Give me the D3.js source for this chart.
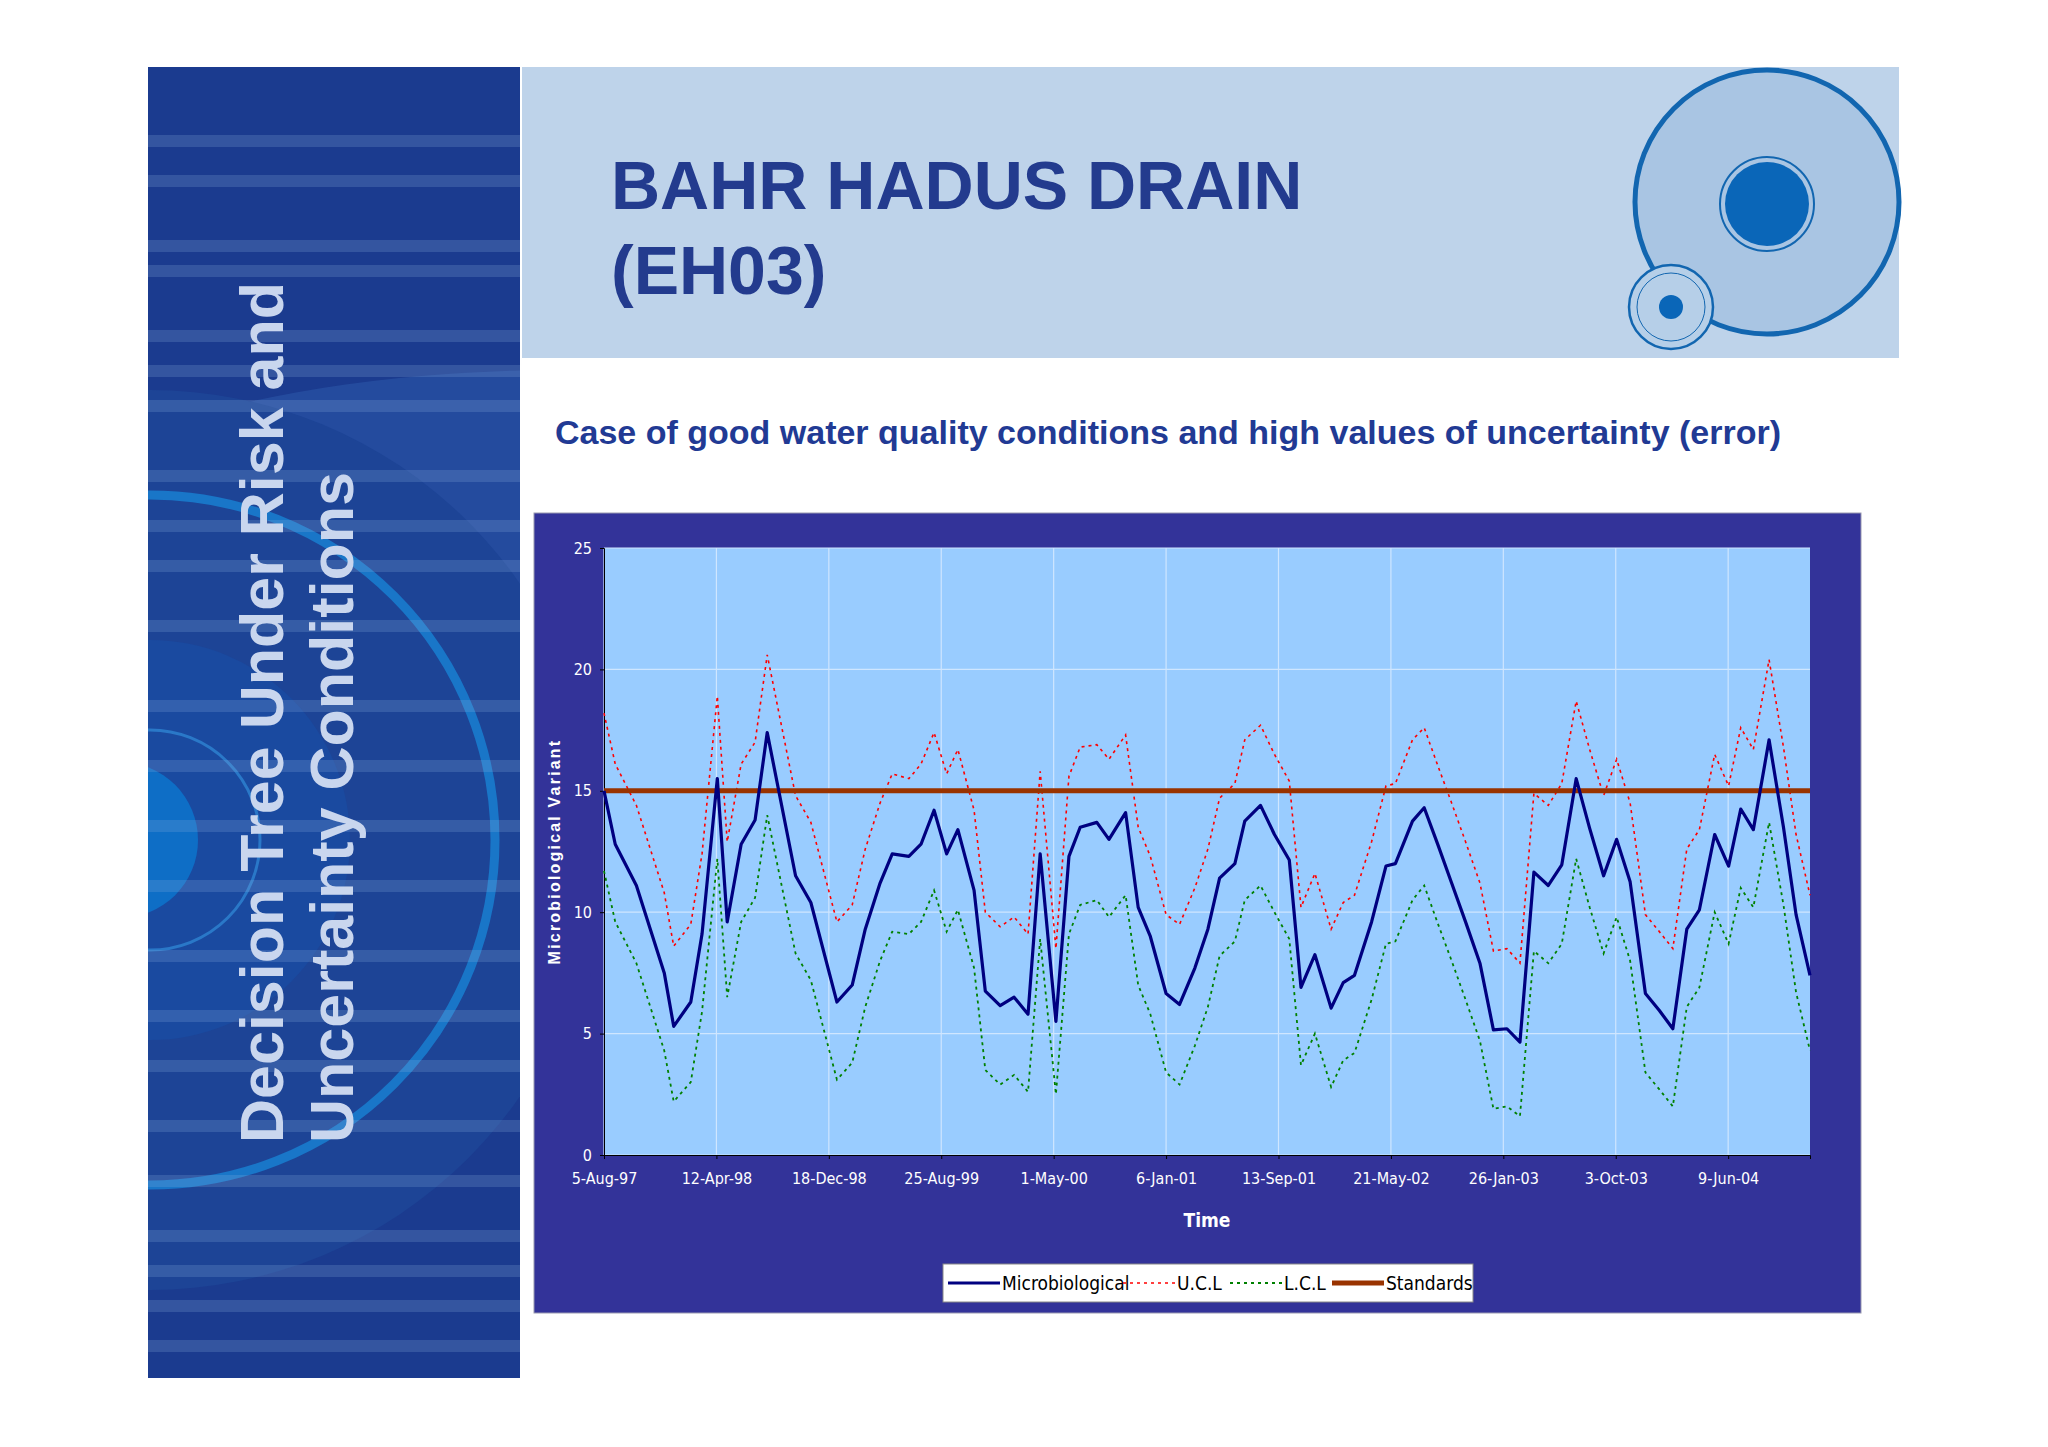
<!DOCTYPE html>
<html>
<head>
<meta charset="utf-8">
<script src="https://cdn.jsdelivr.net/npm/d3@7"></script>
<style>
  body { margin: 0; background: #fff; }
  svg { display: block; }
</style>
</head>
<body>
<div id="slide"></div>
<script>
// sample day offsets from 5-Aug-97
const dayOffsets = [0,25,72,134,155,193,218,252,274,305,336,363,426,460,518,552,581,614,641,678,705,734,762,787,823,848,881,912,943,970,1005,1034,1059,1096,1123,1160,1188,1215,1250,1280,1314,1343,1369,
  1403,1425,1460,1491,1524,1550,1581,1617,1644,1669,1707,1739,1760,1798,1824,1855,1885,1916,1948,1978,2008,2037,2068,2100,2130,2162,2192,2223,2252,2282,2316,2347,2377,2408,2436,2470,2501,2528,2556,2591,2623,2651,2682];
const micro = [15.0,12.8,11.1,7.5,5.3,6.3,9.1,15.5,9.6,12.8,13.8,17.4,11.5,10.4,6.3,7.0,9.3,11.2,12.4,12.3,12.8,14.2,12.4,13.4,10.9,6.75,6.15,6.5,5.8,12.4,5.5,12.3,13.5,13.7,13.0,14.1,10.2,9.0,6.65,6.2,7.7,9.3,11.4,
  12.0,13.75,14.4,13.2,12.15,6.9,8.25,6.05,7.1,7.4,9.6,11.9,12.0,13.75,14.3,12.75,11.2,9.6,7.9,5.15,5.2,4.65,11.65,11.1,11.95,15.5,13.45,11.5,13.0,11.25,6.65,5.95,5.2,9.3,10.1,13.2,11.9,14.25,13.4,17.1,13.5,9.9,7.4];
const ucl = [18.2,16.1,14.4,10.8,8.6,9.5,12.4,18.9,12.9,16.1,17.0,20.6,14.8,13.7,9.6,10.3,12.6,14.5,15.7,15.5,16.1,17.4,15.7,16.7,14.2,10.0,9.4,9.8,9.1,15.8,8.5,15.6,16.8,16.9,16.3,17.3,13.5,12.3,9.9,9.5,11.0,12.6,14.7,
  15.3,17.1,17.7,16.5,15.4,10.2,11.6,9.3,10.4,10.7,12.9,15.2,15.3,17.1,17.6,16.0,14.5,12.9,11.2,8.4,8.5,7.9,14.9,14.4,15.3,18.7,16.7,14.8,16.3,14.5,9.9,9.2,8.5,12.6,13.4,16.5,15.2,17.6,16.7,20.4,16.8,13.2,10.7];
const lcl = [11.7,9.6,7.9,4.3,2.2,3.0,5.9,12.2,6.5,9.6,10.6,14.0,8.3,7.2,3.1,3.8,6.1,8.0,9.2,9.1,9.6,10.9,9.2,10.1,7.7,3.5,2.9,3.3,2.6,8.9,2.5,9.1,10.3,10.5,9.8,10.7,7.0,5.8,3.4,2.9,4.5,6.1,8.2,
  8.8,10.5,11.1,10.0,8.9,3.7,5.0,2.8,3.9,4.2,6.4,8.7,8.8,10.5,11.1,9.5,8.0,6.4,4.7,1.9,2.0,1.6,8.4,7.9,8.7,12.2,10.2,8.3,9.8,8.0,3.4,2.7,2.0,6.1,6.9,10.0,8.7,11.0,10.2,13.7,10.3,6.7,4.3];
const standard = 15;
const xTickLabels = ["5-Aug-97","12-Apr-98","18-Dec-98","25-Aug-99","1-May-00","6-Jan-01","13-Sep-01","21-May-02","26-Jan-03","3-Oct-03","9-Jun-04"];
const yTicks = [0,5,10,15,20,25];
const legendItems = ["Microbiological","U.C.L","L.C.L","Standards"];

const W = 2048, H = 1447;
const svg = d3.select("#slide").append("svg").attr("width", W).attr("height", H);

// ---- left sidebar ----
const side = { x: 148, y: 67, w: 372, h: 1311 };
svg.append("clipPath").attr("id", "sideclip").append("rect")
  .attr("x", side.x).attr("y", side.y).attr("width", side.w).attr("height", side.h);
const sg = svg.append("g").attr("clip-path", "url(#sideclip)");
sg.append("rect").attr("x", side.x).attr("y", side.y).attr("width", side.w).attr("height", side.h).attr("fill", "#1b3b8f");
sg.append("ellipse").attr("cx", 560).attr("cy", 560).attr("rx", 560).attr("ry", 190).attr("fill", "#2b56a8").attr("opacity", 0.6);
sg.append("circle").attr("cx", 150).attr("cy", 840).attr("r", 450).attr("fill", "#1d4496");
sg.append("circle").attr("cx", 150).attr("cy", 840).attr("r", 345).attr("fill", "none").attr("stroke", "#1976c8").attr("stroke-width", 9);
sg.append("circle").attr("cx", 150).attr("cy", 840).attr("r", 200).attr("fill", "#1a4aa0");
sg.append("circle").attr("cx", 150).attr("cy", 840).attr("r", 110).attr("fill", "none").attr("stroke", "#2a78c8").attr("stroke-width", 3);
sg.append("circle").attr("cx", 120).attr("cy", 840).attr("r", 78).attr("fill", "#0e6ec6");
const stripeYs = [135, 175, 240, 265, 330, 365, 400, 470, 520, 560, 620, 700, 760, 820, 880, 950, 1010, 1060, 1120, 1175, 1230, 1265, 1300, 1340];
sg.selectAll(".stripe").data(stripeYs).enter().append("rect")
  .attr("x", side.x).attr("y", d => d).attr("width", side.w).attr("height", 12)
  .attr("fill", "#8fb0e0").attr("opacity", 0.22);
sg.append("text").attr("transform", "translate(283,1143) rotate(-90)")
  .attr("font-family", "Liberation Sans, Arial, sans-serif").attr("font-weight", "bold")
  .attr("font-size", 61).attr("fill", "#c9d6ee").text("Decision Tree Under  Risk and");
sg.append("text").attr("transform", "translate(353,1143) rotate(-90)")
  .attr("font-family", "Liberation Sans, Arial, sans-serif").attr("font-weight", "bold")
  .attr("font-size", 61).attr("fill", "#c9d6ee").text("Uncertainty Conditions");

// ---- header band ----
svg.append("rect").attr("x", 522).attr("y", 67).attr("width", 1377).attr("height", 291).attr("fill", "#bed3ea");
svg.append("text").attr("x", 611).attr("y", 209).attr("font-family", "Liberation Sans, Arial, sans-serif")
  .attr("font-weight", "bold").attr("font-size", 68).attr("fill", "#233b8e").text("BAHR HADUS DRAIN");
svg.append("text").attr("x", 611).attr("y", 294).attr("font-family", "Liberation Sans, Arial, sans-serif")
  .attr("font-weight", "bold").attr("font-size", 68).attr("fill", "#233b8e").text("(EH03)");
svg.append("circle").attr("cx", 1767).attr("cy", 202).attr("r", 132).attr("fill", "#a9c5e3").attr("stroke", "#1266b0").attr("stroke-width", 5);
svg.append("circle").attr("cx", 1767).attr("cy", 204).attr("r", 47).attr("fill", "none").attr("stroke", "#1266b0").attr("stroke-width", 2);
svg.append("circle").attr("cx", 1767).attr("cy", 204).attr("r", 42).attr("fill", "#0a66b8");
svg.append("circle").attr("cx", 1671).attr("cy", 307).attr("r", 42).attr("fill", "#b6cfe8").attr("stroke", "#1266b0").attr("stroke-width", 2.5);
svg.append("circle").attr("cx", 1671).attr("cy", 307).attr("r", 34).attr("fill", "none").attr("stroke", "#1266b0").attr("stroke-width", 1);
svg.append("circle").attr("cx", 1671).attr("cy", 307).attr("r", 12).attr("fill", "#0a66b8");

svg.append("text").attr("x", 555).attr("y", 444).attr("font-family", "Liberation Sans, Arial, sans-serif")
  .attr("font-weight", "bold").attr("font-size", 34).attr("fill", "#213a94")
  .text("Case of good water quality conditions and high values of uncertainty (error)");

// ---- chart ----
svg.append("rect").attr("x", 534).attr("y", 513).attr("width", 1327).attr("height", 800)
  .attr("fill", "#333399").attr("stroke", "#9a9ab0").attr("stroke-width", 1);
const plot = { left: 604, top: 548, right: 1810, bottom: 1155 };
const parse = d3.timeParse("%d-%b-%y");
const start = parse("05-Aug-97");
const dates = dayOffsets.map(d => d3.timeDay.offset(start, d));
const x = d3.scaleTime().domain([start, dates[dates.length - 1]]).range([plot.left, plot.right]);
const y = d3.scaleLinear().domain([0, 25]).range([plot.bottom, plot.top]);
const tickDates = xTickLabels.map(s => parse(s.padStart(9, "0")));

svg.append("rect").attr("x", plot.left).attr("y", plot.top).attr("width", plot.right - plot.left)
  .attr("height", plot.bottom - plot.top).attr("fill", "#99ccff");
svg.append("g").selectAll("line").data(tickDates).enter().append("line")
  .attr("x1", d => x(d)).attr("x2", d => x(d)).attr("y1", plot.top).attr("y2", plot.bottom)
  .attr("stroke", "#cfe6ff").attr("stroke-width", 1.2);
svg.append("g").selectAll("line").data(yTicks).enter().append("line")
  .attr("x1", plot.left).attr("x2", plot.right).attr("y1", d => y(d)).attr("y2", d => y(d))
  .attr("stroke", "#cfe6ff").attr("stroke-width", 1.2);

const narrow = "'DejaVu Sans Condensed', 'Liberation Sans Narrow', sans-serif";
const yAxis = svg.append("g").attr("transform", `translate(${plot.left},0)`)
  .call(d3.axisLeft(y).tickValues(yTicks).tickSize(4).tickPadding(8));
const xAxis = svg.append("g").attr("transform", `translate(0,${plot.bottom})`)
  .call(d3.axisBottom(x).tickValues(tickDates).tickSize(4).tickPadding(14)
    .tickFormat((d, i) => xTickLabels[i]));
[xAxis, yAxis].forEach(a => {
  a.selectAll("path, line").attr("stroke", "#000");
  a.selectAll("text").attr("fill", "#fff").attr("font-size", 16).attr("font-family", narrow);
});

svg.append("text").attr("x", 1207).attr("y", 1227).attr("text-anchor", "middle")
  .attr("font-family", narrow).attr("font-weight", "bold").attr("font-size", 19).attr("fill", "#fff").text("Time");
svg.append("text").attr("transform", `translate(560,${(plot.top + plot.bottom) / 2}) rotate(-90)`)
  .attr("text-anchor", "middle").attr("font-family", "Liberation Sans, Arial, sans-serif")
  .attr("font-weight", "bold").attr("font-size", 16).attr("letter-spacing", 2.2).attr("fill", "#fff")
  .text("Microbiological Variant");

const line = vals => d3.line().x((d, i) => x(dates[i])).y(d => y(d))(vals);
svg.append("path").attr("d", line(ucl)).attr("fill", "none").attr("stroke", "#ff0000")
  .attr("stroke-width", 1.6).attr("stroke-dasharray", "3,4");
svg.append("path").attr("d", line(lcl)).attr("fill", "none").attr("stroke", "#008000")
  .attr("stroke-width", 1.8).attr("stroke-dasharray", "3,4");
svg.append("line").attr("x1", plot.left).attr("x2", plot.right).attr("y1", y(standard)).attr("y2", y(standard))
  .attr("stroke", "#993300").attr("stroke-width", 5);
svg.append("path").attr("d", line(micro)).attr("fill", "none").attr("stroke", "#000080")
  .attr("stroke-width", 3.2).attr("stroke-linejoin", "round");

// legend
const lg = svg.append("g").attr("transform", "translate(943,1264)");
lg.append("rect").attr("width", 530).attr("height", 38).attr("fill", "#fff").attr("stroke", "#888");
const legStyles = [
  { c: "#000080", w: 3, dash: null },
  { c: "#ff0000", w: 1.6, dash: "3,4" },
  { c: "#008000", w: 1.8, dash: "3,4" },
  { c: "#993300", w: 5, dash: null }
];
const legX = [5, 180, 287, 389];
legendItems.forEach((name, i) => {
  const g = lg.append("g").attr("transform", `translate(${legX[i]},19)`);
  g.append("line").attr("x1", 0).attr("x2", 52).attr("stroke", legStyles[i].c)
    .attr("stroke-width", legStyles[i].w).attr("stroke-dasharray", legStyles[i].dash);
  g.append("text").attr("x", 54).attr("y", 7).attr("font-family", narrow).attr("font-size", 19)
    .attr("fill", "#000").text(name);
});
</script>
</body>
</html>
